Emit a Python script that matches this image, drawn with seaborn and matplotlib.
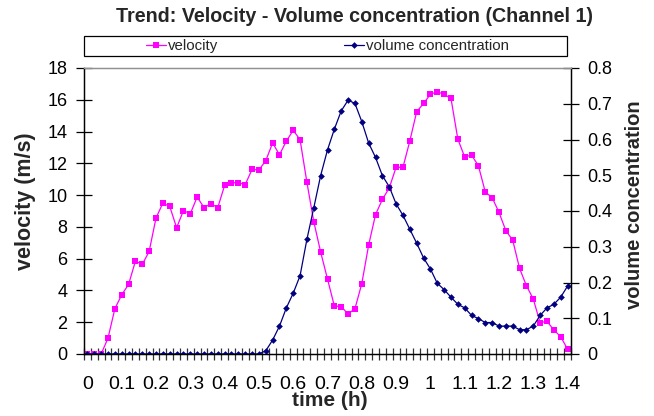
import numpy as np
import pandas as pd
import matplotlib
matplotlib.use("Agg")
import matplotlib.pyplot as plt
from matplotlib.patches import Rectangle
import seaborn as sns

# ---- data ----
n_points = 71
time_h = np.round(np.arange(n_points) * 0.02, 2)  # category positions (0 .. 1.4 h)

velocity = [0, 0, 0, 1.0, 2.85, 3.73, 4.38, 5.85, 5.64, 6.46,
            8.56, 9.5, 9.29, 7.95, 9.02, 8.83, 9.88, 9.21, 9.46, 9.21,
            10.61, 10.78, 10.78, 10.66, 11.62, 11.58, 12.17, 13.28, 12.54, 13.4,
            14.08, 13.49, 10.8, 8.33, 6.42, 4.72, 3.02, 2.98, 2.52, 2.85,
            4.43, 6.86, 8.77, 9.73, 10.45, 11.75, 11.75, 13.4, 15.25, 15.77,
            16.34, 16.51, 16.34, 16.09, 13.53, 12.4, 12.52, 11.85, 10.2, 9.84,
            8.92, 7.76, 7.17, 5.39, 4.3, 3.46, 1.97, 2.06, 1.51, 1.09,
            0.30]

volume_conc = [0] * 26 + [0.009, 0.039, 0.078, 0.129,
               0.170, 0.219, 0.321, 0.409, 0.499, 0.571, 0.629, 0.680, 0.710, 0.701,
               0.650, 0.590, 0.550, 0.499, 0.468, 0.420, 0.388, 0.349, 0.310, 0.269,
               0.238, 0.198, 0.180, 0.159, 0.139, 0.129, 0.108, 0.099, 0.088, 0.088,
               0.078, 0.078, 0.078, 0.068, 0.068, 0.078, 0.108, 0.129, 0.139, 0.159,
               0.190]

x_tick_values = [0, 0.1, 0.2, 0.3, 0.4, 0.5, 0.6, 0.7, 0.8, 0.9, 1.0, 1.1, 1.2, 1.3, 1.4]
x_tick_labels = ["0", "0.1", "0.2", "0.3", "0.4", "0.5", "0.6", "0.7", "0.8", "0.9",
                 "1", "1.1", "1.2", "1.3", "1.4"]
left_ticks = [0, 2, 4, 6, 8, 10, 12, 14, 16, 18]
right_ticks = [0, 0.1, 0.2, 0.3, 0.4, 0.5, 0.6, 0.7, 0.8]
right_tick_labels = ["0", "0.1", "0.2", "0.3", "0.4", "0.5", "0.6", "0.7", "0.8"]

df = pd.DataFrame({"time": time_h, "velocity": velocity, "volume concentration": volume_conc})

# ---- style ----
sns.set_theme(style="white")
plt.rcParams['font.family'] = ['Liberation Sans', 'DejaVu Sans']

MAGENTA = "#FF00FF"
NAVY = "#000080"

fig = plt.figure(figsize=(6.54, 4.16), dpi=100)
W, H = 654, 416
left, right, top, bottom = 84, 571, 68, 354
ax = fig.add_axes([left / W, 1 - bottom / H, (right - left) / W, (bottom - top) / H])
ax2 = ax.twinx()

sns.lineplot(data=df, x="time", y="velocity", ax=ax, color=MAGENTA, linewidth=0.9,
             marker="s", markersize=4.5, markeredgewidth=0, label="velocity", legend=False)
sns.lineplot(data=df, x="time", y="volume concentration", ax=ax2, color=NAVY, linewidth=0.9,
             marker="D", markersize=3.4, markeredgewidth=0, label="volume concentration",
             legend=False)

half = 0.01
ax.set_xlim(-half, 1.4 + half)
ax.set_ylim(0, 18)
ax2.set_ylim(0, 0.8)

ax.set_xticks(x_tick_values)
ax.set_xticklabels(x_tick_labels)
ax.set_xticks(np.arange(n_points + 1) * 0.02 - half, minor=True)
ax.tick_params(axis="x", which="major", length=0, pad=16, labelsize=14, colors="black")
ax.tick_params(axis="x", which="minor", length=8, width=0.9, direction="inout", color="#333333",
               bottom=True)
ax.set_yticks(left_ticks)
ax.tick_params(axis="y", which="major", length=12, width=0.9, direction="inout", pad=6,
               labelsize=13, colors="black", left=True)
ax2.set_yticks(right_ticks)
ax2.set_yticklabels(right_tick_labels)
ax2.tick_params(axis="y", which="major", length=12, width=0.9, direction="inout", pad=6,
                labelsize=13, colors="black", right=True)

for a in (ax, ax2):
    for s in ("left", "right", "bottom"):
        a.spines[s].set_color("black")
        a.spines[s].set_linewidth(0.9)
    a.spines["top"].set_color("#909090")
    a.spines["top"].set_linewidth(0.9)
    a.grid(False)

ax.set_xlabel("time (h)", fontsize=15, fontweight="bold")
ax.xaxis.set_label_coords((330 - left) / (right - left), (bottom - 401) / (bottom - top))
ax.xaxis.label.set_va("center")
ax.set_ylabel("velocity (m/s)", fontsize=15.5, fontweight="bold")
ax.yaxis.set_label_coords((25 - left) / (right - left), (bottom - 201) / (bottom - top))
ax.yaxis.label.set_va("center")
ax2.set_ylabel("volume concentration", fontsize=14.5, fontweight="bold")
ax2.yaxis.set_label_coords((635 - left) / (right - left), (bottom - 205) / (bottom - top))
ax2.yaxis.label.set_va("center")
ax2.yaxis.label.set_rotation(90)

fig.suptitle("Trend: Velocity - Volume concentration (Channel 1)", x=355 / W, y=1 - 17 / H,
             va="center", fontsize=14.2, fontweight="bold")

# legend box (Excel-style) and entries
fig.patches.append(Rectangle((left / W, 1 - 56 / H), (567 - left) / W, 20 / H,
                             transform=fig.transFigure, fill=False, edgecolor="black",
                             linewidth=0.9))
h1 = ax.get_lines()[0]
h2 = ax2.get_lines()[0]
leg = fig.legend([h1, h2], ["velocity", "volume concentration"], ncol=2,
                 loc="center left", bbox_to_anchor=(146 / W, 1 - 46 / H),
                 frameon=False, fontsize=10.8, handlelength=1.33, borderpad=0,
                 handletextpad=0.13, columnspacing=8.4, borderaxespad=0)

fig.savefig("out.png", dpi=100)
